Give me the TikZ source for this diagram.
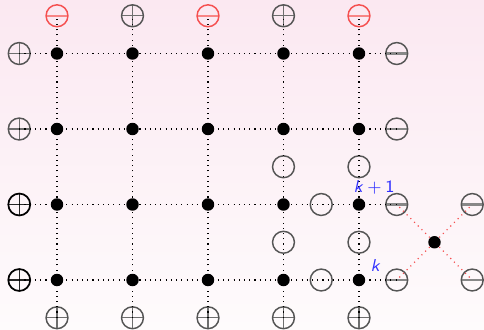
\documentclass[tikz,border=0pt]{standalone}
\usepackage{xcolor}
\usepackage{tikz}
\definecolor{bgpink}{RGB}{251,232,241}
\definecolor{bgwhite}{RGB}{254,251,252}
\definecolor{symgray}{RGB}{85,85,85}
\definecolor{symred}{RGB}{245,80,80}
\definecolor{labblue}{RGB}{50,50,255}

\begin{document}
\begin{tikzpicture}[
  font=\sffamily\fontsize{6.5}{7}\selectfont,
  dot/.style={circle, fill=black, inner sep=0pt, minimum size=1.65mm},
  sym/.style={circle, draw=#1, line width=0.55pt, inner sep=0pt, minimum size=2.9mm},
  pls/.style={sym=#1, path picture={\draw[#1!85!white, line width=0.5pt] (path picture bounding box.north) -- (path picture bounding box.south) (path picture bounding box.west) -- (path picture bounding box.east);}},
  pls/.default=symgray,
  mns/.style={sym=#1, path picture={\draw[#1!70!white, line width=0.85pt] (path picture bounding box.west) -- (path picture bounding box.east);}},
  mns/.default=symgray,
  hole/.style={sym=symgray},
  grd/.style={line width=0.42pt, dash pattern=on 0.42pt off 1.55pt},
  lab/.style={text=labblue, inner sep=1pt}]
% ---- background (fixes the margins)
\shade[top color=bgpink, bottom color=bgwhite] (-0.755,-0.662) rectangle (5.656,3.709);
% ---- lattice sites (column, row)
\node[dot] (d03) at (0,3) {}; \node[dot] (d13) at (1,3) {}; \node[dot] (d23) at (2,3) {}; \node[dot] (d33) at (3,3) {}; \node[dot] (d43) at (4,3) {};
\node[dot] (d02) at (0,2) {}; \node[dot] (d12) at (1,2) {}; \node[dot] (d22) at (2,2) {}; \node[dot] (d32) at (3,2) {}; \node[dot] (d42) at (4,2) {};
\node[dot] (d01) at (0,1) {}; \node[dot] (d11) at (1,1) {}; \node[dot] (d21) at (2,1) {}; \node[dot] (d31) at (3,1) {}; \node[dot] (d41) at (4,1) {};
\node[dot] (d00) at (0,0) {}; \node[dot] (d10) at (1,0) {}; \node[dot] (d20) at (2,0) {}; \node[dot] (d30) at (3,0) {}; \node[dot] (d40) at (4,0) {};
% ---- boundary: top, bottom, left, right
\node[mns=symred] (t0) at (0,3.5) {}; \node[pls] (t1) at (1,3.5) {}; \node[mns=symred] (t2) at (2,3.5) {}; \node[pls] (t3) at (3,3.5) {}; \node[mns=symred] (t4) at (4,3.5) {};
\node[pls] (b0) at (0,-0.5) {}; \node[pls] (b1) at (1,-0.5) {}; \node[pls] (b2) at (2,-0.5) {}; \node[pls] (b3) at (3,-0.5) {}; \node[pls] (b4) at (4,-0.5) {};
\node[pls] (l3) at (-0.5,3) {}; \node[pls] (l2) at (-0.5,2) {};
\node[pls=black, line width=0.65pt] (l1) at (-0.5,1) {}; \node[pls=black, line width=0.65pt] (l0) at (-0.5,0) {};
\node[mns] (r3) at (4.5,3) {}; \node[mns] (r2) at (4.5,2) {}; \node[mns] (r1) at (4.5,1) {}; \node[mns] (r0) at (4.5,0) {};
% ---- empty links
\node[hole] (h31) at (3.5,1) {}; \node[hole] (h30) at (3.5,0) {};
\node[hole] (v31) at (3,1.5) {}; \node[hole] (v30) at (3,0.5) {};
\node[hole] (v41) at (4,1.5) {}; \node[hole] (v40) at (4,0.5) {};
% ---- extra site on the right
\node[dot] (x) at (5,0.5) {};
\node[mns] (q1) at (5.5,1) {}; \node[mns] (q0) at (5.5,0) {};
% grid lines
\draw[grd] (b0.center) -- (t0.center); \draw[grd] (b1.center) -- (t1.center); \draw[grd] (b2.center) -- (t2.center);
\draw[grd] (b3.center) -- (t3.center); \draw[grd] (b4.center) -- (t4.center);
\draw[grd] (l3.center) -- (r3.center); \draw[grd] (l2.center) -- (r2.center);
\draw[grd] (l1.center) -- (r1.center); \draw[grd] (l0.center) -- (r0.center);
\draw[grd, symred] (x) -- (r1.center); \draw[grd, symred] (x) -- (q1.center);
\draw[grd, symred] (x) -- (r0.center); \draw[grd, symred] (x) -- (q0.center);
% labels
\node[lab] (kp) at (4.2,1.22) {\textsl{k}\hspace{0.22em}+\hspace{0.22em}1};
\node[lab] (k) at (4.22,0.19) {\textsl{k}};
\end{tikzpicture}
\end{document}
